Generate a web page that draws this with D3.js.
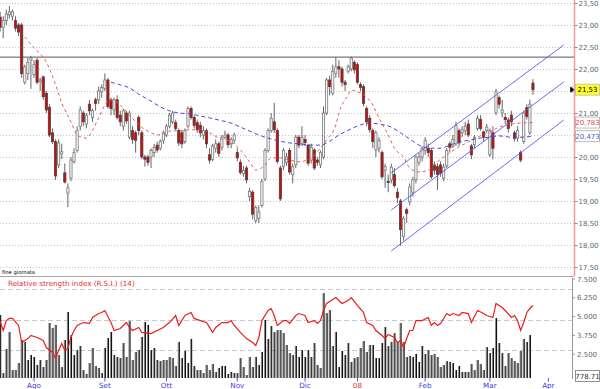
<!DOCTYPE html>
<html><head><meta charset="utf-8">
<script src="https://cdn.jsdelivr.net/npm/d3@7"></script>
<style>body{margin:0;background:#fff}svg{display:block}text{font-family:"DejaVu Sans",Verdana,sans-serif}</style>
</head><body><svg id="c" width="600" height="389"></svg>
<script>
// ---- data ----
const open=[23.18,22.95,23.10,23.23,23.20,23.10,23.00,23.00,21.70,21.90,22.20,21.87,22.20,21.72,21.82,21.45,21.13,20.55,20.35,19.82,20.07,19.64,19.18,19.52,19.90,20.15,20.70,21.00,20.75,21.20,20.90,21.30,21.30,21.48,21.56,21.75,21.30,21.07,21.30,20.95,20.70,21.00,20.45,20.60,20.55,20.90,20.55,20.00,20.00,20.00,20.10,20.27,20.20,20.38,20.50,20.70,20.80,20.78,20.60,20.55,20.35,20.70,21.10,20.90,20.78,20.72,20.50,20.60,20.05,19.95,20.20,20.30,20.22,20.45,20.50,20.30,20.38,20.10,19.88,19.62,19.75,19.10,19.20,18.55,18.60,18.90,19.50,20.15,20.60,20.80,20.60,19.75,19.78,19.88,20.15,19.60,19.82,20.45,20.30,20.40,20.27,19.93,20.16,19.93,19.82,20.00,21.00,21.75,21.45,21.90,22.05,22.00,21.70,21.95,22.00,22.15,22.10,21.65,21.60,21.10,20.88,20.60,20.16,20.20,20.10,19.70,19.45,19.48,19.60,19.20,19.00,18.20,18.80,18.98,19.20,19.48,19.88,20.00,20.15,20.20,20.15,19.82,19.78,19.82,19.52,19.80,20.30,20.25,20.30,20.60,20.55,20.60,20.75,20.25,20.28,20.65,20.85,20.57,20.60,20.05,20.55,21.00,21.35,21.00,20.90,20.84,20.95,20.55,20.43,20.10,20.35,21.12,20.55,21.68];
const high=[23.30,23.20,23.35,23.43,23.35,23.20,23.05,23.05,22.10,22.25,22.30,22.20,22.25,21.80,21.85,21.50,21.20,20.65,20.40,20.40,20.30,19.85,19.40,20.00,20.20,20.70,21.15,21.05,21.00,21.30,21.10,21.35,21.60,21.65,21.90,21.80,21.35,21.35,21.40,21.05,21.10,21.05,21.05,20.70,20.60,20.95,20.60,20.05,20.05,20.20,20.30,20.35,20.40,20.60,20.75,21.00,21.05,20.85,20.65,20.60,20.65,21.15,21.15,20.95,20.85,20.80,20.70,20.65,20.20,20.30,20.40,20.35,20.50,20.60,20.55,20.45,20.55,20.20,19.95,19.80,19.80,19.30,19.25,18.90,18.90,19.50,20.20,20.65,21.00,21.23,20.65,19.80,20.20,20.10,20.20,19.85,20.50,20.50,20.70,20.50,20.30,20.30,20.20,20.00,20.15,21.15,21.80,21.85,22.10,22.27,22.20,22.05,21.75,22.10,22.28,22.20,22.15,21.70,21.65,21.15,20.95,20.65,20.60,20.45,20.15,19.85,19.60,19.85,19.75,19.30,19.05,18.65,18.85,19.40,19.55,20.05,20.10,20.25,20.45,20.30,20.20,19.90,19.85,19.90,19.85,20.20,20.35,20.50,20.80,20.65,20.70,20.80,20.85,20.30,20.50,20.95,20.95,20.60,20.75,20.65,20.70,21.55,21.40,21.30,21.00,20.90,21.05,20.60,20.70,20.15,21.05,21.20,21.30,21.77];
const low=[22.85,22.70,23.00,23.15,23.10,22.85,22.75,21.80,21.65,21.75,21.55,21.80,21.65,21.50,21.30,21.00,20.45,20.30,19.48,19.75,19.95,19.40,18.86,19.45,19.85,20.10,20.60,20.70,20.65,20.95,20.80,21.05,21.20,21.35,21.50,21.10,20.95,20.95,20.85,20.70,20.60,20.75,20.40,20.30,20.10,20.50,19.95,19.78,19.80,19.75,20.00,20.10,20.15,20.30,20.45,20.65,20.75,20.60,20.25,20.20,20.30,20.65,20.85,20.65,20.55,20.45,20.40,20.20,19.85,19.90,20.10,20.00,20.15,20.40,20.20,20.20,20.30,19.90,19.60,19.55,19.40,19.00,18.58,18.50,18.50,18.85,19.45,20.10,20.55,20.55,19.85,19.00,19.70,19.80,19.60,19.40,19.75,20.20,20.25,20.25,19.80,19.85,19.70,19.80,19.75,19.95,20.95,21.40,21.40,21.80,21.80,21.60,21.50,21.90,21.95,21.90,21.65,21.50,21.15,20.70,20.55,20.20,20.00,20.10,19.50,19.30,19.20,19.40,19.30,18.95,17.98,18.10,18.50,18.90,19.10,19.40,19.80,19.90,20.05,20.00,19.50,19.60,19.25,19.55,19.45,19.75,20.10,20.20,20.25,20.25,20.45,20.50,20.45,19.95,20.20,20.60,20.60,20.35,20.55,20.00,19.95,20.95,21.10,20.90,20.75,20.55,20.70,20.35,20.35,19.88,20.30,20.85,20.50,21.41];
const close=[22.95,23.10,23.25,23.30,23.30,22.93,22.84,21.90,22.05,22.15,22.25,22.10,21.70,21.75,21.37,21.07,20.50,20.35,19.57,20.32,20.12,19.43,19.30,19.93,20.10,20.60,21.07,20.80,20.95,21.05,21.05,21.22,21.50,21.58,21.75,21.15,21.10,21.30,20.90,20.80,21.05,20.82,21.00,20.40,20.38,20.60,20.00,19.95,19.88,20.15,20.22,20.16,20.35,20.55,20.70,20.95,21.00,20.65,20.32,20.30,20.60,21.10,20.90,20.72,20.62,20.55,20.60,20.30,19.93,20.25,20.30,20.08,20.45,20.50,20.28,20.40,20.50,19.98,19.65,19.70,19.48,19.22,18.70,18.85,18.75,19.45,20.15,20.60,20.88,20.62,19.90,19.05,20.15,20.00,19.66,19.78,20.45,20.27,20.45,20.33,19.86,20.22,19.75,19.88,20.10,21.00,21.75,21.60,21.95,22.05,22.00,21.70,21.65,22.05,22.25,21.98,21.70,21.58,21.22,20.80,20.62,20.35,20.55,20.38,19.55,19.78,19.42,19.77,19.35,19.08,18.35,18.60,18.72,19.32,19.48,20.00,20.00,20.20,20.38,20.10,19.55,19.70,19.60,19.63,19.77,20.15,20.22,20.40,20.72,20.32,20.62,20.70,20.50,20.05,20.45,20.88,20.65,20.45,20.68,20.60,20.20,21.48,21.20,21.07,20.85,20.65,20.80,20.42,20.60,19.93,21.00,20.92,21.20,21.53];
const volume=[5100,1240,2840,3970,1440,1440,1910,3440,3310,2110,2440,2310,1780,2110,1640,2110,4570,4240,4440,2440,1640,3440,5300,3770,2440,2770,3040,1440,1180,1910,2910,1710,1580,1240,2910,3570,3970,2440,2310,2240,3240,2310,4700,2110,2640,2770,3640,4640,4440,2770,2910,2110,2040,2110,2110,2310,2240,1710,3310,2240,2710,1910,3510,1710,1440,1440,
1240,1780,1440,1840,1310,1580,1710,1710,1180,1310,1240,1240,2240,1640,1110,2310,1640,2310,1780,2640,4770,3510,4370,3970,4100,4100,3900,3110,2570,2440,3040,2310,2770,2310,2770,2310,3240,1780,1580,6560,5230,5430,3040,3970,1640,2710,2440,3240,1980,2240,2310,2910,3370,2640,3110,3110,2240,2240,3240,4300,3040,3310,3900,3310,
4570,3310,2310,2380,2310,2510,1980,3040,2510,2770,2440,2510,2310,1640,1780,2040,1980,1910,1440,1710,1310,1310,1310,1840,1440,2110,1840,1440,2970,2570,2910,4900,3240,2570,1710,2570,2240,2040,1910,2710,3510,3310,3770,778.71];
const rsiIdx=[0,1,2,3,4,6,7,9,10,12,14,15,17,18,19,20,21,22,23,24,25,27,29,30,32,33,34,36,37,39,41,42,43,45,46,49,51,53,55,57,58,60,62,63,65,67,68,69,70,72,74,75,76,78,80,82,83,84,85,87,88,89,90,92,93,94,96,97,99,100,102,103,104,105,106,108,109,111,113,114,116,118,119,121,122,124,125,126,128,129,130,131,132,133,134,135,137,139,140,141,142,143,145,146,147,149,150,152,153,155,157,158,160,161,163,164,166,167,168,169,170,171,172,173];
const rsiVal=[48.7,42.8,49.3,50.7,50.7,46.1,34.9,37.5,39.5,38.2,36.2,31.6,28.4,24.4,29.7,34.3,29.7,31.0,38.2,42.8,46.1,48.0,47.4,51.3,53.9,54.6,55.9,48.0,42.8,44.1,48.0,44.8,42.8,44.8,41.5,40.8,42.8,44.8,48.0,52.6,46.1,52.6,54.6,50.7,49.3,48.0,44.8,41.5,44.8,48.0,48.0,49.3,46.1,41.5,37.5,34.9,33.0,38.2,49.3,55.9,57.2,52.6,46.1,49.3,49.3,47.4,52.6,53.9,52.6,48.0,49.3,47.4,49.3,55.9,60.5,63.1,64.4,60.5,62.5,64.4,59.2,54.6,48.0,46.1,42.8,39.5,37.5,40.2,38.2,34.9,36.2,31.6,37.5,42.8,42.8,49.3,49.3,51.3,46.1,48.0,46.1,47.4,53.9,52.6,53.9,52.6,54.6,53.9,48.0,55.9,53.9,52.6,51.3,60.5,57.9,55.9,51.3,52.6,49.3,42.8,48.0,54.6,57.2,59.2];
const maShortIdx=[8,11,15,18,20,23,25,28,30,32,34,36,39,42,45,49,52,55,58,62,65,68,71,75,78,81,83,86,88,91,94,97,101,104,106,109,110,113,114,116,119,121,123,126,128,131,133,136,139,142,145,149,152,155,159,162,166,169,173];
const maShortVal=[22.73,22.48,22.16,21.64,21.23,20.80,20.50,20.43,20.61,20.89,21.18,21.30,21.18,20.95,20.73,20.55,20.50,20.59,20.60,20.62,20.62,20.55,20.43,20.34,20.16,19.89,19.70,19.82,19.98,19.98,19.93,19.89,19.98,20.20,20.39,20.73,21.00,21.41,21.52,21.48,21.36,21.18,20.89,20.50,20.20,20.00,19.75,19.66,19.70,19.89,20.05,20.23,20.34,20.45,20.57,20.68,20.75,20.77,20.783];
const maLongIdx=[36,39,42,45,49,52,55,58,62,65,68,71,75,78,81,84,88,91,94,97,101,104,107,110,114,117,120,123,127,130,133,136,140,143,146,149,153,156,159,162,166,169,173];
const maLongVal=[21.70,21.64,21.57,21.43,21.27,21.14,21.05,21.00,20.98,20.93,20.89,20.84,20.77,20.68,20.59,20.50,20.41,20.36,20.32,20.30,20.27,20.27,20.36,20.50,20.64,20.73,20.77,20.75,20.68,20.55,20.41,20.27,20.20,20.20,20.27,20.34,20.39,20.43,20.45,20.48,20.45,20.45,20.473];
const channelIdx=[127,183];
const channelUpper=[19.64,22.545];
const channelMid=[18.795,21.705];
const channelLower=[17.864,20.84];
const resistance=22.27;
const priceTicks=[17.5,18,18.5,19,19.5,20,20.5,21,21.5,22,22.5,23,23.5];
const volTicks=[2500,3750,5000,6250,7500];
const monthIdx=[11,34,54,77,99,116,138,159,178];
const monthLabels=["Ago","Set","Ott","Nov","Dic","08","Feb","Mar","Apr"];
const lastClose=21.53, lastShort=20.783, lastLong=20.473, lastVol="778.71";

// ---- scales ----
const svg=d3.select("#c");
const x=d3.scaleLinear().domain([0,173]).range([0.12,532.96]);
const y=d3.scaleLinear().domain([17.5,23.5]).range([267,3]);
const yR=d3.scaleLinear().domain([30,70]).range([350,289]);
const yV=d3.scaleLinear().domain([778.71,7500]).range([380,279]);
const fmtP=d=>d3.format(".2f")(d).replace(".",",");
const fmtV=d=>d3.format(",.0f")(d).replace(",",".");
const N=close.length;
const idx=d3.range(N);

// ---- main panel ----
const gGrid=svg.append("g");
gGrid.selectAll("line").data(priceTicks).join("line")
  .attr("x1",0).attr("x2",574).attr("y1",d=>Math.round(y(d))+0.5).attr("y2",d=>Math.round(y(d))+0.5)
  .attr("stroke","#c4c4c4").attr("stroke-dasharray","1,2");
svg.append("line").attr("x1",0).attr("x2",574).attr("y1",y(resistance)).attr("y2",y(resistance))
  .attr("stroke","#555").attr("stroke-width",1);

svg.append("clipPath").attr("id","mc").append("rect").attr("x",0).attr("y",0).attr("width",574).attr("height",276);
const gMain=svg.append("g").attr("clip-path","url(#mc)");

const gC=gMain.append("g");
gC.selectAll("line").data(idx).join("line")
  .attr("x1",i=>x(i)).attr("x2",i=>x(i)).attr("y1",i=>y(high[i])).attr("y2",i=>y(low[i]))
  .attr("stroke","#555").attr("stroke-width",0.9);
gC.selectAll("rect").data(idx).join("rect")
  .attr("x",i=>x(i)-1.1).attr("width",2.2)
  .attr("y",i=>y(Math.max(open[i],close[i])))
  .attr("height",i=>Math.max(0.8,Math.abs(y(open[i])-y(close[i]))))
  .attr("fill",i=>close[i]<open[i]?"#e40000":"#fafafa")
  .attr("stroke",i=>close[i]<open[i]?"#444":"#777").attr("stroke-width",0.8);

const lineF=d3.line().x(d=>x(d[0])).y(d=>y(d[1])).curve(d3.curveMonotoneX);
gMain.append("path").datum(maShortIdx.map((d,k)=>[d,maShortVal[k]])).attr("d",lineF)
  .attr("fill","none").attr("stroke","#ee5a5a").attr("stroke-width",1).attr("stroke-dasharray","3,3");
gMain.append("path").datum(maLongIdx.map((d,k)=>[d,maLongVal[k]])).attr("d",lineF)
  .attr("fill","none").attr("stroke","#4848d8").attr("stroke-width",1).attr("stroke-dasharray","4,3");

[channelUpper,channelMid,channelLower].forEach(ch=>{
  gMain.append("line").attr("x1",x(channelIdx[0])).attr("x2",x(channelIdx[1]))
    .attr("y1",y(ch[0])).attr("y2",y(ch[1])).attr("stroke","#5a5af0").attr("stroke-width",0.9);
});

// right price axis
svg.append("line").attr("x1",574.5).attr("x2",574.5).attr("y1",0).attr("y2",276)
  .attr("stroke","#f09a9a").attr("stroke-width",1.5);
const boxVals=[lastClose,lastShort,lastLong];
const visTicks=priceTicks.filter(t=>boxVals.every(b=>Math.abs(y(t)-y(b))>8));
const gPA=svg.append("g");
gPA.selectAll("line").data(priceTicks).join("line")
  .attr("x1",575).attr("x2",577.5).attr("y1",d=>y(d)+0.5).attr("y2",d=>y(d)+0.5).attr("stroke","#888");
gPA.selectAll("text").data(visTicks).join("text")
  .attr("x",578.5).attr("y",d=>y(d)+2.6).attr("font-size",7).attr("fill","#666").text(fmtP);

// current value boxes
function box(v,yc,bg,fg,stroke){
  svg.append("rect").attr("x",575.5).attr("y",yc-5.5).attr("width",24).attr("height",11)
    .attr("fill",bg).attr("stroke",stroke).attr("stroke-width",0.8);
  svg.append("text").attr("x",587.5).attr("y",yc+2.6).attr("text-anchor","middle")
    .attr("font-size",7).attr("fill",fg).text(v);
}
box(fmtP(lastClose),y(lastClose),"#ffff22","#000","#bbb");
box(d3.format(".3f")(lastShort).replace(".",","),y(lastShort),"#fff","#e04848","#aaa");
box(d3.format(".3f")(lastLong).replace(".",","),y(lastLong),"#fff","#5555cc","#aaa");
const ym=y(lastClose);
svg.append("path").attr("d",`M570.5,${ym-2.5}L574,${ym}L570.5,${ym+2.5}Z M572,${ym-3}V${ym+3}`)
  .attr("fill","#000").attr("stroke","#000").attr("stroke-width",0.6);

// ---- lower panel ----
svg.append("text").attr("x",2).attr("y",274).attr("font-size",5.2).attr("fill","#000").text("fine giornata");
svg.append("line").attr("x1",0).attr("x2",574).attr("y1",276.5).attr("y2",276.5).attr("stroke","#aaa");
svg.append("text").attr("x",8).attr("y",285.5).attr("font-size",7.2).attr("fill","#e83030")
  .text("Relative strength index (R.S.I.) (14)");
svg.append("g").selectAll("line").data([70,50,30]).join("line")
  .attr("x1",0).attr("x2",572).attr("y1",d=>Math.round(yR(d))+0.5).attr("y2",d=>Math.round(yR(d))+0.5)
  .attr("stroke","#c8c8c8").attr("stroke-dasharray","5,3");

const gV=svg.append("g");
gV.selectAll("rect.a").data(idx).join("rect").attr("class","a")
  .attr("x",i=>x(i)-1).attr("width",1.1).attr("y",i=>Math.min(378,yV(volume[i])))
  .attr("height",i=>Math.max(0,378-yV(volume[i]))).attr("fill","#8a8a8a");
gV.selectAll("rect.b").data(idx).join("rect").attr("class","b")
  .attr("x",i=>x(i)).attr("width",1.1).attr("y",i=>Math.min(378,yV(volume[i])))
  .attr("height",i=>Math.max(0,378-yV(volume[i]))).attr("fill","#111");

const rsiLine=d3.line().x(d=>x(d[0])).y(d=>yR(d[1]));
svg.append("path").datum(rsiIdx.map((d,k)=>[d,rsiVal[k]])).attr("d",rsiLine)
  .attr("fill","none").attr("stroke","#ee1c1c").attr("stroke-width",1.2);

// volume axis
svg.append("line").attr("x1",572.5).attr("x2",572.5).attr("y1",278).attr("y2",379).attr("stroke","#999");
const gVA=svg.append("g");
gVA.selectAll("line").data(volTicks).join("line")
  .attr("x1",572).attr("x2",575).attr("y1",d=>yV(d)).attr("y2",d=>yV(d)).attr("stroke","#999");
gVA.selectAll("text").data(volTicks).join("text")
  .attr("x",577).attr("y",d=>yV(d)+2.6).attr("font-size",7).attr("fill","#666").text(fmtV);
svg.append("rect").attr("x",575.5).attr("y",370.5).attr("width",24).attr("height",11)
  .attr("fill","#fff").attr("stroke","#777").attr("stroke-width",0.8);
svg.append("text").attr("x",587.5).attr("y",378.8).attr("text-anchor","middle").attr("font-size",7)
  .attr("fill","#333").text(lastVol);

// x axis
const gX=svg.append("g");
gX.selectAll("line").data(monthIdx).join("line")
  .attr("x1",d=>x(d)).attr("x2",d=>x(d)).attr("y1",378).attr("y2",381.5).attr("stroke","#5555dd");
gX.selectAll("text").data(monthIdx).join("text")
  .attr("x",d=>x(d)).attr("y",388).attr("text-anchor","middle").attr("font-size",7.2)
  .attr("fill",(d,k)=>monthLabels[k]==="08"?"#e83030":"#4040e0").text((d,k)=>monthLabels[k]);
</script></body></html>
